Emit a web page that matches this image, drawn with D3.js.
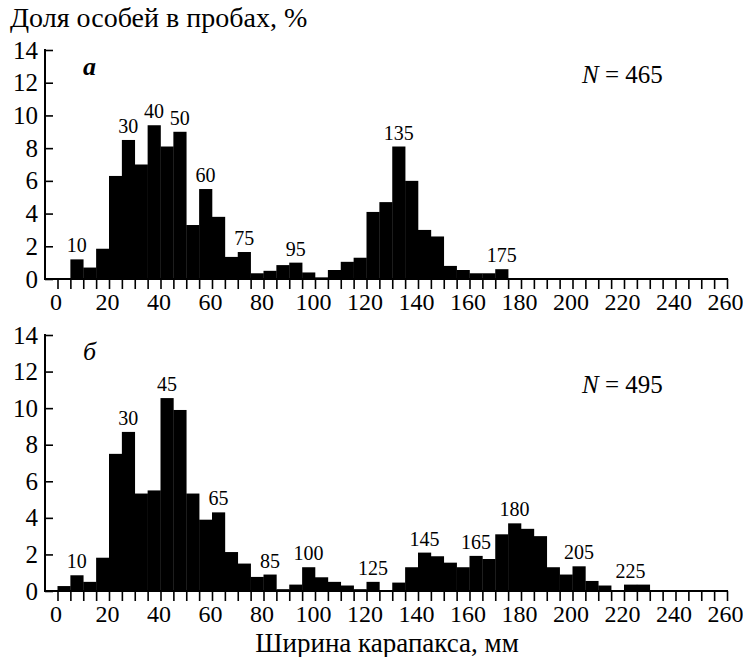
<!DOCTYPE html>
<html>
<head>
<meta charset="UTF-8">
<title>Ширина карапакса</title>
<script src="https://cdn.jsdelivr.net/npm/d3@7"></script>
</head>
<body style="margin:0">
<script>
    // bins of 5 mm, starting at 0
    var binWidth = 5;
    var topValues = [0, 1.2, 0.7, 1.85, 6.3, 8.5, 7.0, 9.4, 8.1, 9.0,
        3.3, 5.5, 3.8, 1.35, 1.65, 0.35, 0.5, 0.85, 1.0, 0.4,
        0.1, 0.55, 1.05, 1.3, 4.1, 4.7, 8.1, 6.0, 3.0, 2.6,
        0.8, 0.55, 0.35, 0.35, 0.6];
    var bottomValues = [0.27, 0.86, 0.5, 1.82, 7.5, 8.7, 5.33, 5.5, 10.55, 9.9,
        5.33, 3.9, 4.3, 2.13, 1.5, 0.77, 0.9, 0.1, 0.35, 1.3,
        0.75, 0.5, 0.3, 0.1, 0.5, 0, 0.46, 1.3, 2.1, 1.9,
        1.55, 1.3, 1.92, 1.75, 3.1, 3.7, 3.4, 3.0, 1.3, 0.9,
        1.35, 0.55, 0.3, 0, 0.35, 0.35];
    // modal classes marked above the bars (upper bin edge, mm)
    var topPeaks = [10, 30, 40, 50, 60, 75, 95, 135, 175];
    var bottomPeaks = [10, 30, 45, 65, 85, 100, 125, 145, 165, 180, 205, 225];
    var yTicks = [0, 2, 4, 6, 8, 10, 12, 14];

    var W = 743, H = 657;
    var axisX = 45;
    var serif = "'Liberation Serif'";

    var svg = d3.select("body").append("svg")
        .attr("width", W)
        .attr("height", H);

    var x = d3.scaleLinear().domain([0, 260]).range([57.5, 727]);

    function panel(values, peaks, top, bottom, letter, bold, nText, nY) {
        var y = d3.scaleLinear().domain([0, 14]).range([bottom, top]);
        var g = svg.append("g");

        // bars
        g.selectAll("rect")
            .data(values)
            .enter()
            .append("rect")
            .attr("x", function(d, i) { return x(i * binWidth); })
            .attr("width", x(binWidth) - x(0) + 0.3)
            .attr("y", function(d) { return y(d); })
            .attr("height", function(d) { return y(0) - y(d); })
            .attr("fill", "#000");

        // peak labels
        g.selectAll(".peak")
            .data(peaks)
            .enter()
            .append("text")
            .attr("class", "peak")
            .attr("x", function(d) { return x(d - binWidth / 2); })
            .attr("y", function(d) { return y(values[d / binWidth - 1]) - 7; })
            .attr("text-anchor", "middle")
            .style("font-family", serif)
            .attr("font-size", 20)
            .text(function(d) { return d; });

        // x axis
        var xAxis = d3.axisBottom(x)
            .tickValues(d3.range(0, 261, 5))
            .tickSize(10)
            .tickPadding(4)
            .tickFormat(function(d) { return d % 20 === 0 ? d : ""; });
        var gx = g.append("g")
            .attr("transform", "translate(0," + y(0) + ")")
            .call(xAxis)
            .attr("font-family", null)
            .attr("font-size", null);
        gx.select(".domain").remove();
        gx.selectAll(".tick line").attr("stroke", "#000").attr("stroke-width", 1.6);
        gx.selectAll(".tick text")
            .style("font-family", serif)
            .attr("font-size", 24)
            .attr("fill", "#000")
            .attr("dx", "-2");
        g.append("line")
            .attr("x1", axisX).attr("x2", x(260) + 1)
            .attr("y1", y(0)).attr("y2", y(0))
            .attr("stroke", "#000").attr("stroke-width", 2);

        // y axis, ticks inward
        var yAxis = d3.axisLeft(y)
            .tickValues(yTicks)
            .tickSizeInner(-8)
            .tickSizeOuter(0)
            .tickPadding(7);
        var gy = g.append("g")
            .attr("transform", "translate(" + axisX + ",0)")
            .call(yAxis)
            .attr("font-family", null)
            .attr("font-size", null);
        gy.select(".domain").remove();
        gy.selectAll(".tick line").attr("stroke", "#000").attr("stroke-width", 1.6);
        gy.selectAll(".tick text")
            .style("font-family", serif)
            .attr("font-size", 25)
            .attr("fill", "#000");
        g.append("line")
            .attr("x1", axisX).attr("x2", axisX)
            .attr("y1", y(14) - 1).attr("y2", y(0) + 1)
            .attr("stroke", "#000").attr("stroke-width", 2);

        // panel letter and sample size
        g.append("text")
            .attr("x", 83).attr("y", top + 25)
            .style("font-family", serif)
            .attr("font-size", 26)
            .attr("font-style", "italic")
            .attr("font-weight", bold ? "bold" : "normal")
            .text(letter);
        var n = g.append("text")
            .attr("x", 582).attr("y", nY)
            .style("font-family", serif)
            .attr("font-size", 25);
        n.append("tspan").attr("font-style", "italic").text("N");
        n.append("tspan").text(" = " + nText);
    }

    panel(topValues, topPeaks, 50, 279, "a", true, "465", 83);
    panel(bottomValues, bottomPeaks, 335, 591, "б", false, "495", 393);

    // titles
    svg.append("text")
        .attr("x", 10).attr("y", 27)
        .style("font-family", serif)
        .attr("font-size", 28)
        .text("Доля особей в пробах, %");
    svg.append("text")
        .attr("x", 387).attr("y", 652)
        .attr("text-anchor", "middle")
        .style("font-family", serif)
        .attr("font-size", 27)
        .text("Ширина карапакса, мм");
</script>
</body>
</html>
